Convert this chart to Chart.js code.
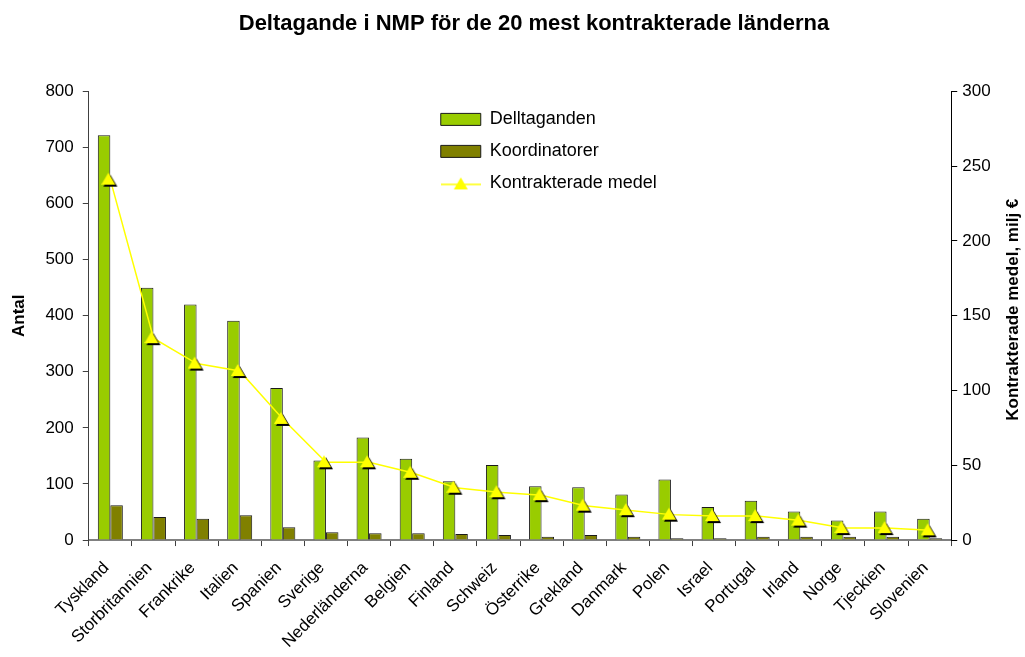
<!DOCTYPE html>
<html lang="sv">
<head>
  <meta charset="UTF-8">
  <title>Deltagande i NMP</title>
  <script src="https://cdn.jsdelivr.net/npm/chart.js"></script>
  <style>
    html, body { margin: 0; padding: 0; background: #fff; }
    #wrap { width: 1025px; height: 657px; }
  </style>
</head>
<body>
<div id="wrap"><canvas id="chart"></canvas></div>

<script>
    const lander = ['Tyskland', 'Storbritannien', 'Frankrike', 'Italien', 'Spanien', 'Sverige',
        'Nederländerna', 'Belgien', 'Finland', 'Schweiz', 'Österrike', 'Grekland', 'Danmark',
        'Polen', 'Israel', 'Portugal', 'Irland', 'Norge', 'Tjeckien', 'Slovenien'];
    const deltaganden = [722, 450, 420, 391, 271, 142, 183, 145, 105, 134, 96, 94, 81, 108, 59, 70, 51, 35, 51, 38];
    const koordinatorer = [62, 41, 38, 44, 23, 14, 12, 12, 11, 9, 6, 9, 6, 3, 3, 6, 6, 6, 6, 3];
    const medel = [241, 135, 118, 113, 81, 52, 52, 45, 35, 32, 30, 23, 20, 17, 16, 16, 13, 8, 8, 6.5];

    const FONT = "'Liberation Sans', Arial, sans-serif";

    // triangel med svart skugga som punktstil
    function triangel(skugga) {
        const c = document.createElement('canvas');
        c.width = 18; c.height = 16;
        const g = c.getContext('2d');
        const tri = (dx, dy, col) => {
            g.beginPath();
            g.moveTo(7 + dx, 1 + dy);
            g.lineTo(14 + dx, 13 + dy);
            g.lineTo(0 + dx, 13 + dy);
            g.closePath();
            g.fillStyle = col;
            g.fill();
        };
        if (skugga) tri(2, 2, '#000');
        tri(0, 0, '#ffff00');
        return c;
    }
    const markor = triangel(true);

    const legendLinje = document.createElement('canvas');
    legendLinje.width = 40; legendLinje.height = 14;
    (function () {
        const g = legendLinje.getContext('2d');
        g.strokeStyle = '#ffff00';
        g.lineWidth = 1.5;
        g.beginPath(); g.moveTo(0, 8); g.lineTo(40, 8); g.stroke();
        g.drawImage(triangel(false), 13, 0);
    })();

    const placering = {
        id: 'placering',
        afterLayout(chart) {
            chart.legend.left = chart.chartArea.left + 338;
            chart.legend.top = chart.chartArea.top + 5;
            chart.titleBlock.left += 36;
        },
        afterDraw(chart) {
            const s = chart.scales.y1;
            const ctx = chart.ctx;
            ctx.save();
            ctx.translate(s.right - 10, (s.top + s.bottom) / 2 - 6);
            ctx.rotate(-Math.PI / 2);
            ctx.textAlign = 'center';
            ctx.textBaseline = 'middle';
            ctx.fillStyle = '#000';
            ctx.font = 'bold 17px ' + FONT;
            ctx.fillText('Kontrakterade medel, milj €', 0, 0);
            ctx.restore();
        }
    };

    new Chart(document.getElementById('chart'), {
        type: 'bar',
        data: {
            labels: lander,
            datasets: [
                {
                    label: 'Delltaganden',
                    data: deltaganden,
                    backgroundColor: '#99cc00',
                    borderColor: '#1a1a1a',
                    borderWidth: 1,
                    pointStyle: 'rect',
                    yAxisID: 'y',
                    order: 1
                },
                {
                    label: 'Koordinatorer',
                    data: koordinatorer,
                    backgroundColor: '#808000',
                    borderColor: '#1a1a1a',
                    borderWidth: 1,
                    pointStyle: 'rect',
                    yAxisID: 'y',
                    order: 1
                },
                {
                    type: 'line',
                    label: 'Kontrakterade medel',
                    data: medel,
                    borderColor: '#ffff00',
                    backgroundColor: '#ffff00',
                    borderWidth: 1.5,
                    pointStyle: markor,
                    pointRadius: 7,
                    tension: 0,
                    yAxisID: 'y1',
                    order: 0
                }
            ]
        },
        options: {
            responsive: true,
            maintainAspectRatio: false,
            animation: false,
            categoryPercentage: 0.58,
            barPercentage: 1,
            layout: { padding: { left: 9, right: 2, bottom: -7 } },
            plugins: {
                title: {
                    display: true,
                    text: 'Deltagande i NMP för de 20 mest kontrakterade länderna',
                    color: '#000',
                    font: { family: FONT, size: 22, weight: 'bold' },
                    padding: { top: 11, bottom: 54 }
                },
                legend: {
                    position: 'chartArea',
                    align: 'start',
                    labels: {
                        color: '#000',
                        font: { family: FONT, size: 18 },
                        usePointStyle: true,
                        pointStyleWidth: 40,
                        boxHeight: 12,
                        padding: 14,
                        sort: (a, b) => a.datasetIndex - b.datasetIndex,
                        generateLabels(chart) {
                            const items = Chart.defaults.plugins.legend.labels.generateLabels(chart);
                            items.forEach(it => {
                                if (it.datasetIndex === 2) it.pointStyle = legendLinje;
                            });
                            return items;
                        }
                    }
                },
                tooltip: { enabled: false }
            },
            scales: {
                x: {
                    border: { color: '#808080', width: 2 },
                    grid: { display: true, drawOnChartArea: false, drawTicks: true, tickLength: 6, color: '#404040' },
                    ticks: {
                        autoSkip: false,
                        minRotation: 45,
                        maxRotation: 45,
                        color: '#000',
                        padding: 12,
                        labelOffset: -4,
                        font: { family: FONT, size: 17 }
                    }
                },
                y: {
                    position: 'left',
                    min: 0,
                    max: 800,
                    border: { color: '#404040', width: 1 },
                    grid: { drawOnChartArea: false, tickLength: 6, color: '#404040' },
                    ticks: {
                        stepSize: 100,
                        color: '#000',
                        padding: 9,
                        font: { family: FONT, size: 17 }
                    },
                    title: {
                        display: true,
                        text: 'Antal',
                        color: '#000',
                        font: { family: FONT, size: 17, weight: 'bold' },
                        padding: { top: 0, bottom: 7 }
                    }
                },
                y1: {
                    position: 'right',
                    min: 0,
                    max: 300,
                    border: { color: '#000', width: 1 },
                    grid: { drawOnChartArea: false, tickLength: 6, color: '#000' },
                    ticks: {
                        stepSize: 50,
                        color: '#000',
                        padding: 5,
                        font: { family: FONT, size: 17 }
                    },
                    title: {
                        display: true,
                        text: 'Kontrakterade medel, milj €',
                        color: 'rgba(0,0,0,0)',
                        font: { family: FONT, size: 17, weight: 'bold' },
                        padding: { top: 7, bottom: 0 }
                    }
                }
            }
        },
        plugins: [placering]
    });
</script>
</body>
</html>
